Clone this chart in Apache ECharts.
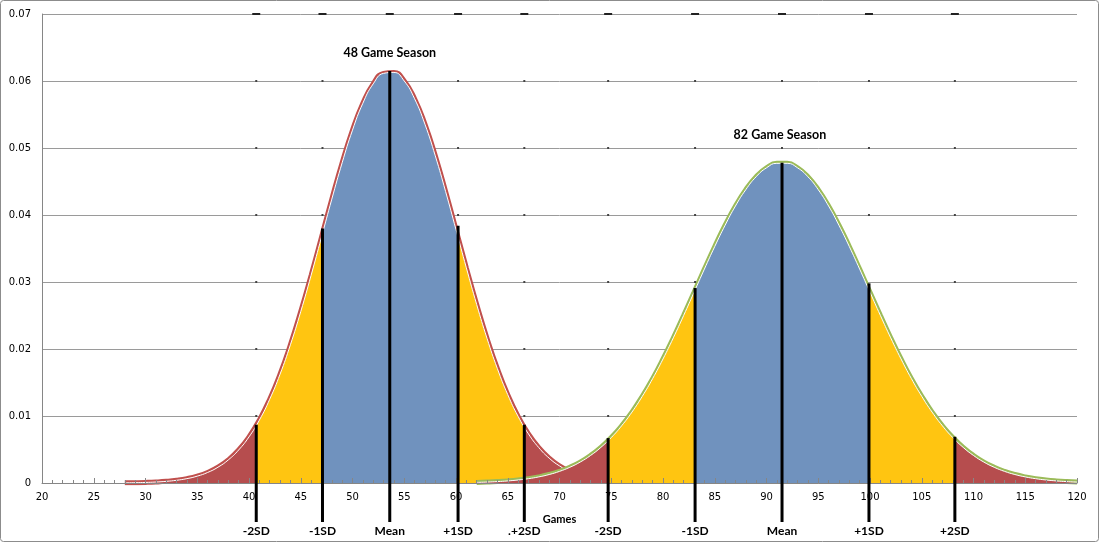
<!DOCTYPE html>
<html><head><meta charset="utf-8">
<script src="https://cdn.jsdelivr.net/npm/echarts@6/dist/echarts.min.js"></script>
<style>html,body{margin:0;padding:0;background:#fff}#c{width:1100px;height:543px}</style>
</head><body><div id="c"></div>
<script>
// ---- data ----
const season48Games = [28,29,30,31,32,33,34,35,36,37,38,39,40,41,42,43,44,45,46,47,48,49,50,51,52,53,54,55,56,57,58,59,60,61,62,63,64,65,66,67,68,69,70,71,72,73,74,75];
const season48Prob = [0.000026,0.000048,0.000084,0.000146,0.000246,0.000405,0.000651,0.001024,0.00157,0.002355,0.003446,0.004925,0.00688,0.00938,0.0125,0.01624,0.02063,0.02559,0.0310,0.03667,0.04237,0.0478,0.05267,0.05668,0.05957,0.06114,0.06128,0.0600,0.05735,0.05355,0.04883,0.04348,0.03782,0.03212,0.02664,0.02158,0.01707,0.01319,0.00995,0.00733,0.00528,0.00371,0.00255,0.00171,0.00112,0.000714,0.000446,0.000272];

const season82Games = [62,63,64,65,66,67,68,69,70,71,72,73,74,75,76,77,78,79,80,81,82,83,84,85,86,87,88,89,90,91,92,93,94,95,96,97,98,99,100,101,102,103,104,105,106,107,108,109,110,111,112,113,114,115,116,117,118,119,120];
const season82Prob = [0.000093,0.000141,0.00021,0.00031,0.000451,0.000645,0.00091,0.001265,0.001735,0.002345,0.003124,0.004106,0.005317,0.00678,0.00853,0.01058,0.01294,0.01558,0.01851,0.02167,0.02502,0.02847,0.03193,0.0353,0.03847,0.04134,0.04378,0.04571,0.04704,0.04771,0.04771,0.04704,0.04571,0.04378,0.04134,0.03847,0.0353,0.03193,0.02847,0.02502,0.02167,0.01851,0.01558,0.01294,0.01058,0.00853,0.00678,0.005317,0.004106,0.003124,0.002345,0.001735,0.001265,0.00091,0.000645,0.000451,0.00031,0.00021,0.000141];

const sdLabels = ['-2SD','-1SD','Mean','+1SD','.+2SD','-2SD','-1SD','Mean','+1SD','+2SD'];
const sdGames  = [40.7, 47.1, 53.6, 60.2, 66.6, 74.7, 83.1, 91.5, 99.9, 108.2];
const sdTops   = [0.0087, 0.0380, 0.0615, 0.0384, 0.0087, 0.0067, 0.0291, 0.0478, 0.0298, 0.0069];

const seasonTitles = ['48 Game Season', '82 Game Season'];
const titleGames = [53.6, 91.3];
const titleProb  = [0.0642, 0.0519];

const yGridValues = [0.01, 0.02, 0.03, 0.04, 0.05, 0.06, 0.07];

// ---- styling ----
const RED_FILL = '#B64D4E', YELLOW = '#FFC511', BLUE = '#7092BE';
const RED_LINE = '#C0504D', GREEN_LINE = '#9BBB59';

const pairs = (xs, ys) => xs.map((x, i) => [x, ys[i]]);

function bandPieces(b) { // b: [-2sd,-1sd,+1sd,+2sd]
  return [
    {lt: b[0], color: RED_FILL},
    {gte: b[0], lt: b[1], color: YELLOW},
    {gte: b[1], lt: b[2], color: BLUE},
    {gte: b[2], lt: b[3], color: YELLOW},
    {gte: b[3], color: RED_FILL}
  ];
}

const chart = echarts.init(document.getElementById('c'), null, {renderer: 'canvas'});
const axisFont = {fontFamily: 'DejaVu Sans', fontSize: 10, color: '#000'};

chart.setOption({
  backgroundColor: '#fff',
  animation: false,
  graphic: [{
    type: 'rect', silent: true, z: 100,
    shape: {x: 0.5, y: 0.5, width: 1098, height: 541, r: 3},
    style: {fill: 'none', stroke: '#8c8c8c', lineWidth: 1}
  }],
  grid: {left: 42, right: 23, top: 14, bottom: 60, containLabel: false},
  xAxis: {
    type: 'value', min: 20, max: 120, interval: 5, z: 4,
    name: 'Games', nameLocation: 'middle', nameGap: 31,
    nameTextStyle: {fontFamily: 'Lato', fontWeight: 'bold', fontSize: 11, color: '#000'},
    axisLine: {show: true, lineStyle: {color: '#868686', width: 1}},
    axisTick: {show: true, inside: true, length: 5, lineStyle: {color: '#868686'}},
    minorTick: {show: true, splitNumber: 5, length: 3, lineStyle: {color: '#868686'}},
    axisLabel: Object.assign({margin: 9}, axisFont),
    splitLine: {show: false}
  },
  yAxis: {
    type: 'value', min: 0, max: 0.07, interval: 0.01,
    axisLine: {show: true, lineStyle: {color: '#868686', width: 1}},
    axisTick: {show: false},
    axisLabel: Object.assign({margin: 11, formatter: v => String(+v.toFixed(2))}, axisFont),
    splitLine: {show: true, lineStyle: {color: '#9a9a9a', width: 1}}
  },
  visualMap: [
    {type: 'piecewise', show: false, dimension: 0, seriesIndex: 1,
     pieces: bandPieces([sdGames[0], sdGames[1], sdGames[3], sdGames[4]])},
    {type: 'piecewise', show: false, dimension: 0, seriesIndex: 3,
     pieces: bandPieces([sdGames[5], sdGames[6], sdGames[8], sdGames[9]])}
  ],
  series: [
    {type: 'line', name: 'outline48', data: pairs(season48Games, season48Prob), smooth: true,
     showSymbol: false, symbol: 'none', lineStyle: {color: RED_LINE, width: 5}, z: 1, silent: true},
    {type: 'line', name: '48 Game Season', data: pairs(season48Games, season48Prob), smooth: true,
     showSymbol: false, symbol: 'none', lineStyle: {color: '#fff', width: 1}, areaStyle: {opacity: 1}, z: 2, silent: true},
    {type: 'line', name: 'outline82', data: pairs(season82Games, season82Prob), smooth: true,
     showSymbol: false, symbol: 'none', lineStyle: {color: GREEN_LINE, width: 5}, z: 3, silent: true},
    {type: 'line', name: '82 Game Season', data: pairs(season82Games, season82Prob), smooth: true,
     showSymbol: false, symbol: 'none', lineStyle: {color: '#fff', width: 1}, areaStyle: {opacity: 1}, z: 3.5, silent: true},
    {type: 'custom', name: 'sd', z: 5, silent: true, clip: false,
     data: sdGames.map((g, i) => [g, sdTops[i], i]),
     renderItem: function (params, api) {
       const top = api.coord([api.value(0), api.value(1)]);
       const base = api.coord([api.value(0), 0]);
       const children = [
         {type: 'line', shape: {x1: top[0], y1: top[1], x2: top[0], y2: base[1] + 39},
          style: {stroke: '#000', lineWidth: 3}},
         {type: 'text', style: {text: sdLabels[api.value(2)], x: top[0], y: base[1] + 48,
          align: 'center', verticalAlign: 'middle', font: 'bold 12px Lato', fill: '#000'}}
       ];
       // small dark marks where the SD position meets each gridline (as in the reference)
       yGridValues.forEach((v, k) => {
         const p = api.coord([api.value(0), v]);
         if (p[1] < top[1] - 2) {
           const last = k === yGridValues.length - 1;
           const w = last ? 8 : 2;
           children.push({type: 'rect', shape: {x: p[0] - w / 2, y: p[1] - 1, width: w, height: 2},
             style: {fill: last ? '#222' : '#444'}});
         }
       });
       return {type: 'group', children};
     }},
    {type: 'custom', name: 'titles', z: 6, silent: true, clip: false,
     data: titleGames.map((g, i) => [g, titleProb[i], i]),
     renderItem: function (params, api) {
       const p = api.coord([api.value(0), api.value(1)]);
       return {type: 'text', style: {text: seasonTitles[api.value(2)], x: p[0], y: p[1],
         align: 'center', verticalAlign: 'middle', font: 'bold 12.5px Lato', fill: '#000'}};
     }}
  ]
});
</script></body></html>
